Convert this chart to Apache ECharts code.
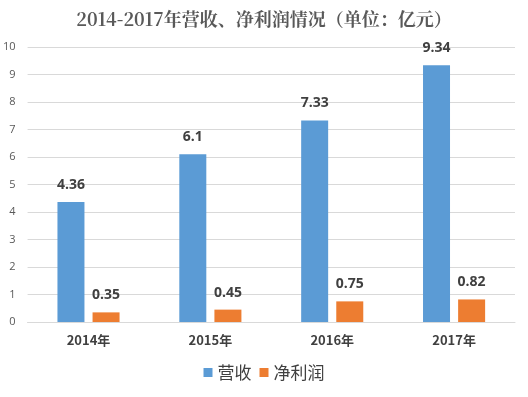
<!DOCTYPE html>
<html><head><meta charset="utf-8">
<script src="https://cdn.jsdelivr.net/npm/echarts@6/dist/echarts.min.js"></script>
<style>html,body{margin:0;padding:0;background:#fff}#c{width:528px;height:397px}</style>
</head><body><div id="c"></div>
<script>
var categories = ['2014年','2015年','2016年','2017年'];
var revenue = [4.36, 6.1, 7.33, 9.34];
var netProfit = [0.35, 0.45, 0.75, 0.82];
var yTicks = {min:0, max:10, interval:1};

var chart = echarts.init(document.getElementById('c'));
var lbl = {show:true, position:'top', color:'#404040', fontWeight:'bold', fontSize:14, fontFamily:'Open Sans, sans-serif', distance:10};
chart.setOption({
  animation:false,
  title:{text:'2014-2017年营收、净利润情况（单位：亿元）', left:'center', top:5,
    textStyle:{fontFamily:'Noto Serif CJK SC, serif', fontWeight:'bold', fontSize:18, color:'#595959'}},
  legend:{bottom:11, left:'center', itemWidth:9, itemHeight:9, itemGap:8, icon:'rect',
    textStyle:{fontSize:17, color:'#404040', fontFamily:'Noto Sans CJK SC'}},
  grid:{left:27, right:13, top:47, bottom:75, containLabel:false},
  xAxis:{type:'category', data:categories,
    axisLine:{lineStyle:{color:'#d9d9d9'}}, axisTick:{show:false},
    axisLabel:{color:'#404040', fontWeight:'bold', fontSize:13, margin:12, fontFamily:'Noto Sans CJK SC'}},
  yAxis:{type:'value', min:yTicks.min, max:yTicks.max, interval:yTicks.interval,
    axisLine:{show:false}, axisTick:{show:false},
    splitLine:{lineStyle:{color:'#d9d9d9'}},
    axisLabel:{color:'#595959', fontSize:11, margin:12, fontFamily:'Open Sans, sans-serif'}},
  series:[
    {name:'营收', type:'bar', data:revenue, barWidth:27, barGap:'30%', itemStyle:{color:'#5B9BD5'}, label:lbl},
    {name:'净利润', type:'bar', data:netProfit, barWidth:27, itemStyle:{color:'#ED7D31'}, label:lbl}
  ]
});
</script></body></html>
